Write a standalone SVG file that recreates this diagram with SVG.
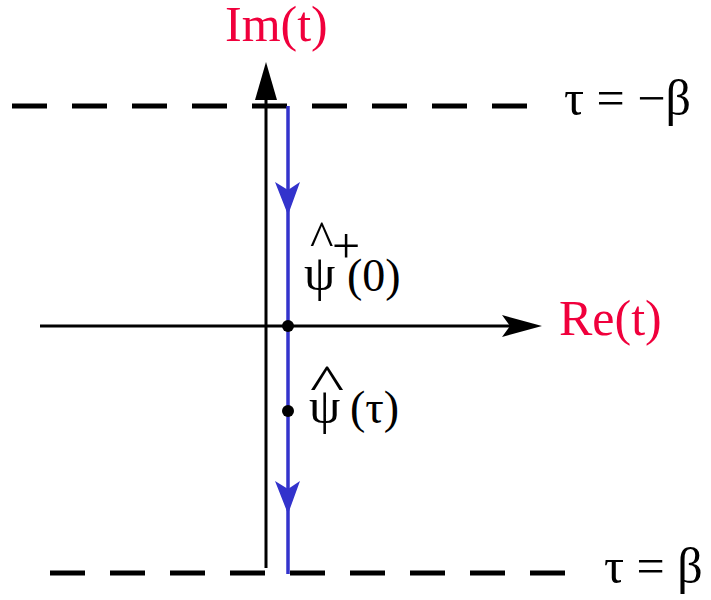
<svg xmlns="http://www.w3.org/2000/svg" width="711" height="600" viewBox="0 0 711 600">
<style>
.t{font-family:"Liberation Serif","DejaVu Serif",serif;font-size:50px;fill:#000}
.s{font-size:46px}
.r{fill:#f0003c}
.dash{stroke:#000;stroke-width:5;stroke-dasharray:35 25;fill:none}
.ax{stroke:#000;stroke-width:3;fill:none}
.bl{stroke:#3333cc;stroke-width:3.5;fill:none}
</style>
<g id="connectors">
<line class="dash" x1="12" y1="106" x2="530" y2="106"/>
<line class="dash" x1="50" y1="573" x2="570" y2="573"/>
<line class="ax" x1="266" y1="568" x2="266" y2="95"/>
<polygon points="266,62 255,100 277,100" fill="#000"/>
<line class="ax" x1="40" y1="326" x2="510" y2="326"/>
<polygon points="542,326 502,315 510,326 502,337" fill="#000"/>
<line class="bl" x1="288" y1="106" x2="288" y2="574"/>
<polygon points="288,215 275,182 288,190 300,182" fill="#3333cc"/>
<polygon points="288,514 275,481 288,489 300,481" fill="#3333cc"/>
</g>
<g id="im-label"><text class="t r" x="225" y="41">Im(t)</text></g>
<g id="re-label"><text class="t r" x="559" y="335">Re(t)</text></g>
<g id="tau-minus-beta"><text class="t" x="564" y="115">τ = −β</text></g>
<g id="tau-beta"><text class="t" x="604" y="583">τ = β</text></g>
<g id="psi-dagger">
<circle cx="288" cy="326" r="6" fill="#000"/>
<text class="t" x="304" y="290" font-size="42">ψ</text>
<text class="t" x="310" y="256" font-size="22">^</text>
<text class="t" x="332" y="263" font-size="45">+</text>
<text class="t s" x="347" y="291">(0)</text>
</g>
<g id="psi-tau">
<circle cx="288" cy="411" r="6" fill="#000"/>
<text class="t" x="309" y="423" font-size="45">ψ</text>
<text class="t" font-size="19" transform="translate(310,400) scale(1.45,1)">^</text>
<text class="t s" x="350" y="423">(τ)</text>
</g>
</svg>
